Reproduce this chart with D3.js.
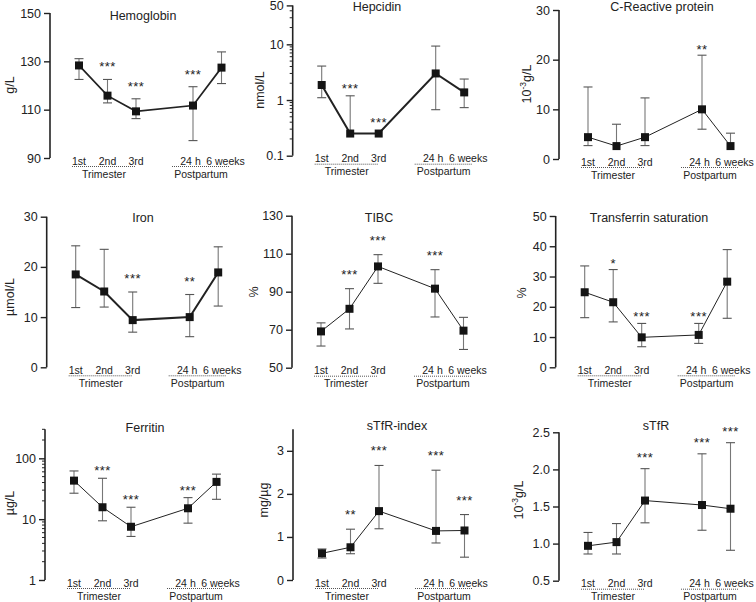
<!DOCTYPE html>
<html>
<head>
<meta charset="utf-8">
<script src="https://cdn.jsdelivr.net/npm/d3@7"></script>
<style>
  body { margin: 0; background: #fff; }
  text { font-family: "Liberation Sans", Arial, sans-serif; fill: #222; }
</style>
</head>
<body>
<div id="chart"></div>
<script>
// time points (gap between 3rd trimester and postpartum)
const timeLabels = ["1st", "2nd", "3rd", "24 h", "6 weeks"];
const timeSlots = [0, 1, 2, 4, 5];
const periodLabels = ["Trimester", "Postpartum"];

const hemoglobinMean = [128.3, 115.8, 109.3, 111.7, 127.4];
const hemoglobinLow = [122.5, 112.8, 106.3, 97.2, 120.8];
const hemoglobinHigh = [131.1, 122.5, 114.5, 119.5, 133.9];
const hemoglobinStars = ["", "***", "***", "***", ""];
const hemoglobinTicks = [90, 110, 130, 150];
const hemoglobinDomain = [90, 150];

const hepcidinMean = [1.86, 0.25, 0.25, 3.0, 1.37];
const hepcidinLow = [1.1, null, null, 0.67, 0.73];
const hepcidinHigh = [4.07, 1.19, null, 9.3, 2.38];
const hepcidinStars = ["", "***", "***", "", ""];
const hepcidinTicks = [0.1, 1, 10, 50];
const hepcidinDomain = [0.1, 50];

const crpMean = [4.4, 2.6, 4.4, 10.0, 2.6];
const crpLow = [2.7, null, 2.7, 6.0, null];
const crpHigh = [14.5, 7.0, 12.3, 20.9, 5.2];
const crpStars = ["", "", "", "**", ""];
const crpTicks = [0, 10, 20, 30];
const crpDomain = [0, 30];

const ironMean = [18.5, 15.1, 9.4, 10.0, 18.9];
const ironLow = [11.9, 12.0, 7.0, 6.1, 12.2];
const ironHigh = [24.2, 23.5, 15.0, 14.5, 24.0];
const ironStars = ["", "", "***", "**", ""];
const ironTicks = [0, 10, 20, 30];
const ironDomain = [0, 30];

const tibcMean = [69.1, 81.0, 103.3, 91.6, 69.5];
const tibcLow = [61.4, 70.4, 94.4, 76.7, 59.6];
const tibcHigh = [73.6, 91.6, 109.5, 101.6, 76.5];
const tibcStars = ["", "***", "***", "***", ""];
const tibcTicks = [50, 70, 90, 110, 130];
const tibcDomain = [50, 130];

const tsatMean = [24.8, 21.5, 9.9, 10.7, 28.3];
const tsatLow = [16.4, 15.0, 6.8, 7.9, 16.2];
const tsatHigh = [33.5, 32.3, 14.5, 14.5, 38.9];
const tsatStars = ["", "*", "***", "***", ""];
const tsatTicks = [0, 10, 20, 30, 40, 50];
const tsatDomain = [0, 50];

const ferritinMean = [43, 15.7, 7.5, 15.1, 41];
const ferritinLow = [26.7, 9.4, 5.2, 8.6, 21.2];
const ferritinHigh = [62, 47, 15.7, 22.6, 55];
const ferritinStars = ["", "***", "***", "***", ""];
const ferritinTicks = [1, 10, 100];
const ferritinDomain = [1, 300];

const indexMean = [0.62, 0.76, 1.6, 1.14, 1.15];
const indexLow = [0.51, 0.61, 1.19, 0.86, 0.53];
const indexHigh = [0.72, 1.18, 2.66, 2.55, 1.52];
const indexStars = ["", "**", "***", "***", "***"];
const indexTicks = [0, 1, 2, 3];
const indexDomain = [0, 3.5];

const stfrMean = [0.97, 1.02, 1.58, 1.52, 1.47];
const stfrLow = [0.86, 0.86, 1.28, 1.18, 0.91];
const stfrHigh = [1.15, 1.27, 2.01, 2.21, 2.36];
const stfrStars = ["", "", "***", "***", "***"];
const stfrTicks = [0.5, 1.0, 1.5, 2.0, 2.5];
const stfrDomain = [0.5, 2.5];

const width = 756, height = 602;

// small nudges so "24 h" and "6 weeks" don't run together
const labelShift = [0, 0, 0, -2.5, 4];

// layout per panel
const panels = [
  { title: "Hemoglobin", unit: "g/L", mean: hemoglobinMean, low: hemoglobinLow, high: hemoglobinHigh, stars: hemoglobinStars, ticks: hemoglobinTicks, domain: hemoglobinDomain,
    ax: 50, top: 13, bottom: 158, labX: 10, labY: 85, titleX: 143, titleY: 15, lw: 1.7, starGap: 15 },
  { title: "Hepcidin", unit: "nmol/L", mean: hepcidinMean, low: hepcidinLow, high: hepcidinHigh, stars: hepcidinStars, ticks: hepcidinTicks, domain: hepcidinDomain, log: true,
    ax: 292.7, top: 5.4, bottom: 155.7, labX: 260, labY: 90, titleX: 377, titleY: 6, lw: 2, starGap: 10 },
  { title: "C-Reactive protein", unit: "sup", mean: crpMean, low: crpLow, high: crpHigh, stars: crpStars, ticks: crpTicks, domain: crpDomain,
    ax: 559, top: 10, bottom: 159, labX: 527, labY: 84, titleX: 662, titleY: 6, lw: 1, starGap: 8 },
  { title: "Iron", unit: "µmol/L", mean: ironMean, low: ironLow, high: ironHigh, stars: ironStars, ticks: ironTicks, domain: ironDomain,
    ax: 46.7, top: 216.7, bottom: 367.3, labX: 10, labY: 297, titleX: 143, titleY: 217, lw: 2, starGap: 16 },
  { title: "TIBC", unit: "%", mean: tibcMean, low: tibcLow, high: tibcHigh, stars: tibcStars, ticks: tibcTicks, domain: tibcDomain,
    ax: 292, top: 215.7, bottom: 367.7, labX: 254, labY: 292, titleX: 379, titleY: 217, lw: 1, starGap: 17 },
  { title: "Transferrin saturation", unit: "%", mean: tsatMean, low: tsatLow, high: tsatHigh, stars: tsatStars, ticks: tsatTicks, domain: tsatDomain,
    ax: 555.7, top: 216, bottom: 367.3, labX: 522, labY: 293, titleX: 649, titleY: 217, lw: 1, starGap: 9 },
  { title: "Ferritin", unit: "µg/L", mean: ferritinMean, low: ferritinLow, high: ferritinHigh, stars: ferritinStars, ticks: ferritinTicks, domain: ferritinDomain, log: true,
    ax: 45, top: 429.3, bottom: 580, labX: 10, labY: 503, titleX: 145, titleY: 427, lw: 1, starGap: 10 },
  { title: "sTfR-index", unit: "mg/µg", mean: indexMean, low: indexLow, high: indexHigh, stars: indexStars, ticks: indexTicks, domain: indexDomain,
    ax: 293, top: 429.3, bottom: 580, labX: 264, labY: 500, titleX: 397, titleY: 425, lw: 1, starGap: 17 },
  { title: "sTfR", unit: "sup", mean: stfrMean, low: stfrLow, high: stfrHigh, stars: stfrStars, ticks: stfrTicks, domain: stfrDomain, fmt: ".1f",
    ax: 559, top: 432.3, bottom: 580.7, labX: 519, labY: 500, titleX: 656, titleY: 425, lw: 1, starGap: 14 }
];

const svg = d3.select("#chart").append("svg")
  .attr("width", width)
  .attr("height", height);

const drawPanel = (p) => {
  const g = svg.append("g");

  const y = (p.log ? d3.scaleLog() : d3.scaleLinear())
    .domain(p.domain)
    .range([p.bottom, p.top]);

  const x = d3.scaleLinear()
    .domain([0, 5])
    .range([p.ax + 29, p.ax + 171.5]);

  // y axis
  const axis = d3.axisLeft(y)
    .tickValues(p.ticks)
    .tickSize(6)
    .tickPadding(3)
    .tickFormat(p.fmt ? d3.format(p.fmt) : (d => d));
  const ag = g.append("g")
    .attr("transform", `translate(${p.ax},0)`)
    .call(axis);
  ag.select(".domain").attr("d", `M0,${p.top}V${p.bottom}`).attr("stroke", "#222").attr("stroke-width", 1.6);
  ag.selectAll(".tick line").attr("stroke", "#222").attr("stroke-width", 1.4);
  ag.selectAll(".tick text")
    .style("font-family", "'Liberation Sans', Arial, sans-serif")
    .style("font-size", "12.5px")
    .attr("fill", "#222");

  // minor log ticks
  if (p.log) {
    const minor = y.ticks().filter(v => !p.ticks.includes(v) && v >= p.domain[0] && v <= p.domain[1]);
    g.selectAll(".minor").data(minor).join("line")
      .attr("x1", p.ax - 3).attr("x2", p.ax)
      .attr("y1", d => y(d)).attr("y2", d => y(d))
      .attr("stroke", "#222").attr("stroke-width", 1);
  }

  // y label
  const lab = g.append("text")
    .attr("transform", `translate(${p.labX},${p.labY}) rotate(-90)`)
    .attr("text-anchor", "middle")
    .attr("dy", "0.35em")
    .style("font-size", "12.5px");
  if (p.unit === "sup") {
    lab.append("tspan").text("10");
    lab.append("tspan").attr("dy", -5).style("font-size", "8.5px").text("-3");
    lab.append("tspan").attr("dy", 5).text("g/L");
  } else {
    lab.text(p.unit);
  }

  // title
  g.append("text")
    .attr("x", p.titleX).attr("y", p.titleY + 4.5)
    .attr("text-anchor", "middle")
    .style("font-size", "12.5px")
    .text(p.title);

  // x labels
  g.selectAll(".tl").data(timeLabels).join("text")
    .attr("x", (d, i) => x(timeSlots[i]) + labelShift[i])
    .attr("y", p.bottom + 6.5)
    .attr("text-anchor", "middle")
    .style("font-size", "10.5px")
    .text(d => d);

  const periods = [[x(0) - 7, x(2)], [x(4) - 21, x(5) + 8.5]];
  periods.forEach((r, i) => {
    g.append("line")
      .attr("x1", r[0]).attr("x2", r[1])
      .attr("y1", p.bottom + 8.5).attr("y2", p.bottom + 8.5)
      .attr("stroke", "#555").attr("stroke-width", 1)
      .attr("stroke-dasharray", "1,1");
    g.append("text")
      .attr("x", (r[0] + r[1]) / 2)
      .attr("y", p.bottom + 19.5)
      .attr("text-anchor", "middle")
      .style("font-size", "10.5px")
      .text(periodLabels[i]);
  });

  const pts = p.mean.map((m, i) => ({ i, m, lo: p.low[i], hi: p.high[i], s: p.stars[i] }));
  const cap = 4.5;

  // error bars
  pts.forEach(d => {
    const cx = x(timeSlots[d.i]);
    [d.lo, d.hi].forEach(v => {
      if (v == null) return;
      g.append("line")
        .attr("x1", cx).attr("x2", cx)
        .attr("y1", y(d.m)).attr("y2", y(v))
        .attr("stroke", "#777").attr("stroke-width", 1.1);
      g.append("line")
        .attr("x1", cx - cap).attr("x2", cx + cap)
        .attr("y1", y(v)).attr("y2", y(v))
        .attr("stroke", "#555").attr("stroke-width", 1.1);
    });
  });

  // connecting line
  const line = d3.line()
    .x(d => x(timeSlots[d.i]))
    .y(d => y(d.m));
  g.append("path")
    .datum(pts)
    .attr("d", line)
    .attr("fill", "none")
    .attr("stroke", "#222")
    .attr("stroke-width", p.lw);

  // markers
  const ms = 8;
  g.selectAll(".mk").data(pts).join("rect")
    .attr("x", d => x(timeSlots[d.i]) - ms / 2)
    .attr("y", d => y(d.m) - ms / 2)
    .attr("width", ms).attr("height", ms)
    .attr("fill", "#141414");

  // significance stars
  g.selectAll(".st").data(pts.filter(d => d.s)).join("text")
    .attr("x", d => x(timeSlots[d.i]))
    .attr("y", d => {
      const topY = Math.min(y(d.m) - ms / 2, d.hi == null ? Infinity : y(d.hi));
      return topY - p.starGap + 7;
    })
    .attr("text-anchor", "middle")
    .style("font-size", "13px")
    .style("letter-spacing", "0.5px")
    .attr("fill", "#333")
    .text(d => d.s);
};

panels.forEach(drawPanel);
</script>
</body>
</html>
